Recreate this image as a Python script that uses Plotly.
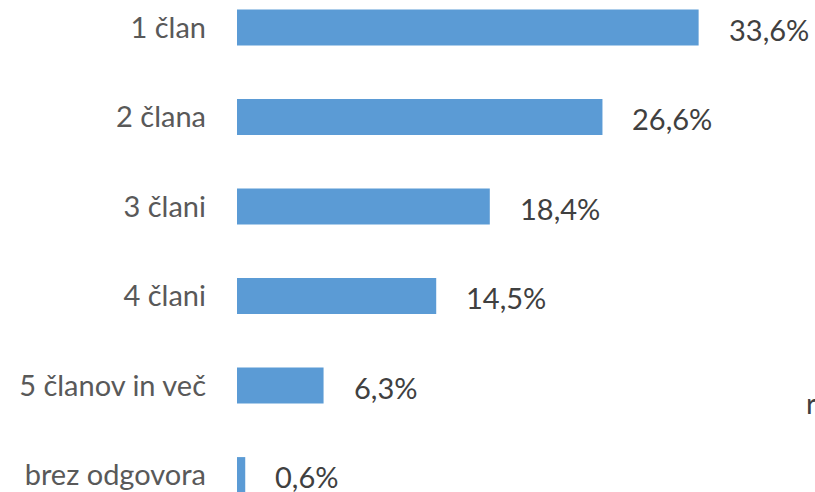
import plotly.graph_objects as go

categories = ["1 član", "2 člana", "3 člani", "4 člani", "5 članov in več", "brez odgovora"]
values = [33.6, 26.6, 18.4, 14.5, 6.3, 0.6]
labels = ["33,6%", "26,6%", "18,4%", "14,5%", "6,3%", "0,6%"]

FONT = "Lato"
fig = go.Figure()
fig.add_trace(go.Bar(
    x=values, y=list(range(len(categories))), orientation="h",
    marker=dict(color="#5B9BD5", line=dict(width=0)),
    width=0.4, hoverinfo="skip",
))

for i, (v, t) in enumerate(zip(values, labels)):
    fig.add_annotation(x=v, y=i, xref="x", yref="y", text=t, showarrow=False,
                       xanchor="left", yanchor="middle", xshift=28, yshift=-2,
                       font=dict(family=FONT, size=29, color="#404040"))

# stray clipped glyph visible at the right edge of the reference
fig.add_annotation(x=41.3, y=4.19, xref="x", yref="y", text="r", showarrow=False,
                   xanchor="left", yanchor="middle",
                   font=dict(family=FONT, size=29, color="#404040"))

fig.update_layout(
    width=815, height=492,
    margin=dict(l=237, r=0, t=0, b=0),
    paper_bgcolor="white", plot_bgcolor="white",
    showlegend=False,
    xaxis=dict(range=[0, 42.07], visible=False, fixedrange=True),
    yaxis=dict(range=[5.19, -0.307], tickmode="array",
               tickvals=list(range(len(categories))), ticktext=categories,
               showgrid=False, zeroline=False, showline=False, ticks="",
               ticklabelstandoff=30,
               tickfont=dict(family=FONT, size=29, color="#595959")),
)

fig.write_html("out.html", config={"displayModeBar": False},
               post_script="document.body.style.margin='0';document.body.style.overflow='hidden';")
